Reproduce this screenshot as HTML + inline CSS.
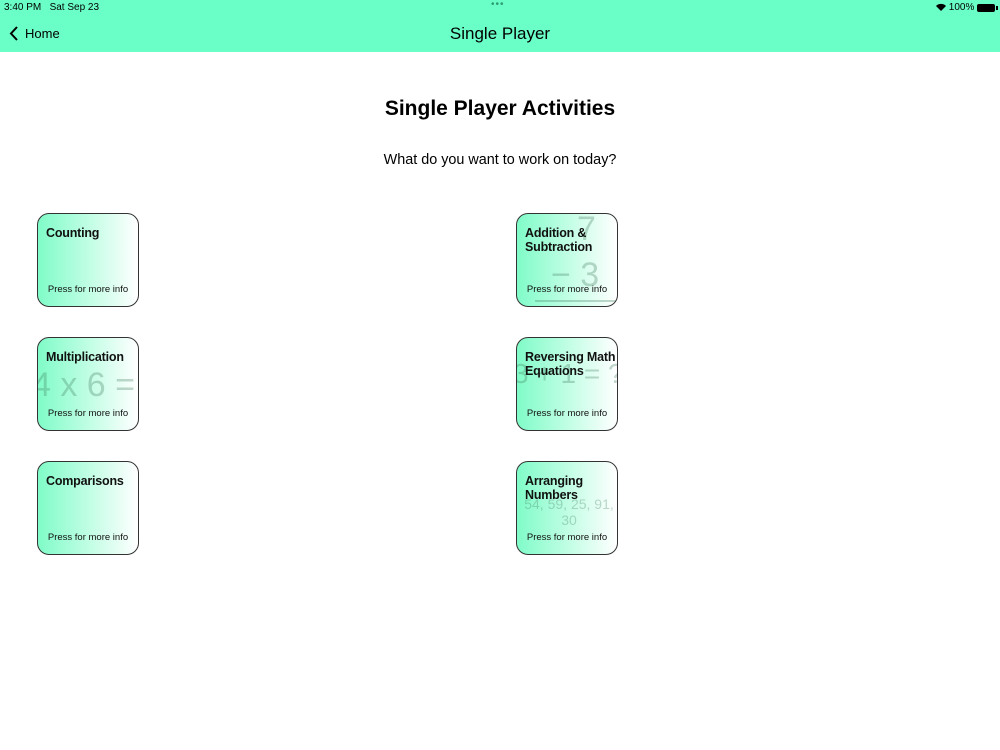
<!DOCTYPE html>
<html><head><meta charset="utf-8"><style>
*{margin:0;padding:0;box-sizing:border-box}
body{width:1000px;height:750px;background:#fff;font-family:"Liberation Sans",sans-serif;position:relative;overflow:hidden}
.bar{position:absolute;left:0;top:0;width:1000px;height:52px;background:#6bffc8}
.t{position:absolute;color:#000}
.card{position:absolute;width:102px;height:94px;border:1px solid #333;border-radius:12px;background:linear-gradient(to right,#80fcc8,#ffffff);overflow:hidden}
.card .h{position:absolute;left:8px;top:12px;font-weight:bold;font-size:12.5px;line-height:14px;color:#111;letter-spacing:-0.2px;white-space:nowrap}
.card .p{position:absolute;left:0;width:100%;top:70px;text-align:center;font-size:9.5px;color:#111}
.bg{position:absolute;color:rgba(60,120,90,0.3);font-size:34px;white-space:nowrap}
</style></head><body>
<div class="bar"></div>
<div class="t" style="left:4px;top:2px;font-size:10px">3:40 PM&nbsp;&nbsp;&nbsp;Sat Sep 23</div>
<div class="t" style="left:491px;top:-1px;font-size:10px;color:#2a9d6e;letter-spacing:1px">•••</div>
<div class="t" style="left:936px;top:2px;font-size:10px">
<svg width="10" height="8" viewBox="0 0 10 8" style="vertical-align:-1px"><path d="M0 3 A7 7 0 0 1 10 3 L5 8Z" fill="#000"/></svg> 100%</div>
<div style="position:absolute;left:977px;top:4px;width:18px;height:8px;border-radius:2px;background:#000"></div>
<div style="position:absolute;left:996px;top:6px;width:1.5px;height:4px;background:#000"></div>
<svg style="position:absolute;left:9px;top:26px" width="10" height="15"><path d="M8 1 L2 7.5 L8 14" stroke="#000" stroke-width="2" fill="none"/></svg>
<div class="t" style="left:25px;top:26px;font-size:13px">Home</div>
<div class="t" style="left:0;width:1000px;text-align:center;top:24px;font-size:17px">Single Player</div>
<div class="t" style="left:0;width:1000px;text-align:center;top:97px;font-size:21px;font-weight:bold">Single Player Activities</div>
<div class="t" style="left:0;width:1000px;text-align:center;top:152px;font-size:14.4px">What do you want to work on today?</div>

<div class="card" style="left:37px;top:213px"><div class="h">Counting</div><div class="p">Press for more info</div></div>
<div class="card" style="left:37px;top:337px"><div class="bg" style="left:-6px;top:28px">4 x 6 =</div><div class="h">Multiplication</div><div class="p">Press for more info</div></div>
<div class="card" style="left:37px;top:461px"><div class="h">Comparisons</div><div class="p">Press for more info</div></div>
<div class="card" style="left:516px;top:213px"><div class="bg" style="left:60px;top:-4px">7</div><div class="bg" style="left:34px;top:42px">− 3</div><div style="position:absolute;left:18px;top:86px;width:84px;height:2px;background:rgba(60,120,90,0.3)"></div><div class="h">Addition &amp;<br>Subtraction</div><div class="p">Press for more info</div></div>
<div class="card" style="left:516px;top:337px"><div class="bg" style="left:-4px;top:20px;font-size:28px">3 + 1 = ?</div><div class="h">Reversing Math<br>Equations</div><div class="p">Press for more info</div></div>
<div class="card" style="left:516px;top:461px"><div class="bg" style="left:4px;top:34px;font-size:14px;width:96px;text-align:center;white-space:normal;line-height:16px">54, 59, 25, 91, 30</div><div class="h">Arranging<br>Numbers</div><div class="p">Press for more info</div></div>
</body></html>
